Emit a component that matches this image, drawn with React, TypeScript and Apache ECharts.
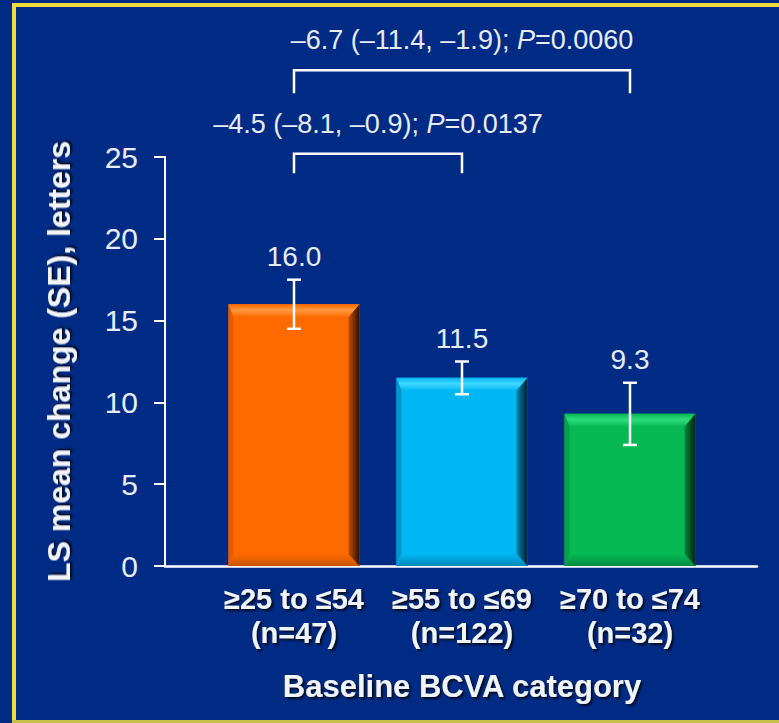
import React, { useEffect, useRef } from "react";
import * as echarts from "echarts";

// Baseline BCVA groups
const rangeLabels = ["≥25 to ≤54", "≥55 to ≤69", "≥70 to ≤74"];
const sampleSizes = [47, 122, 32];

// LS mean change from baseline (letters) and its standard error
const meanChange = [16.0, 11.5, 9.3];
const standardError = [1.5, 1.0, 1.9];

// y-axis scale
const yMin = 0;
const yMax = 25;
const yStep = 5;

// Pairwise comparisons against the lowest baseline group
const compareFrom = [0, 0];
const compareTo = [1, 2];
const diffEstimate = [-4.5, -6.7];
const ciLower = [-8.1, -11.4];
const ciUpper = [-0.9, -1.9];
const pValues = ["0.0137", "0.0060"];
const bracketLevel = [25.2, 30.3];
const bracketDrop = [1.2, 1.4];

const FONT = 'Arial, "Liberation Sans", Helvetica, sans-serif';
const TEXT = "#f2f4f8";

// Face / bevel shades for each bar
const barPalette = [
  { face: "#ff6a00", top: "#ff9a40", left: "#e35d00", right: ["#c04e00", "#2e1000"], bottom: "#c85400" },
  { face: "#00b7f3", top: "#3fd6ff", left: "#0098cc", right: ["#0086b5", "#001c2c"], bottom: "#0089ba" },
  { face: "#06b955", top: "#2fdc7b", left: "#05a048", right: ["#048a40", "#00200e"], bottom: "#048c42" },
];

const fmt = (v: number) => (v < 0 ? "–" + Math.abs(v).toFixed(1) : v.toFixed(1));

export default function App() {
  const ref = useRef<HTMLDivElement>(null);

  useEffect(() => {
    if (!ref.current) return;
    const chart = echarts.init(ref.current, undefined, { renderer: "svg" });

    const categories = rangeLabels.map((r, i) => `${r}\n(n=${sampleSizes[i]})`);
    const barData = meanChange.map((v, i) => [i, v]);
    const errData = meanChange.map((v, i) => [i, v, standardError[i]]);
    const bracketData = compareFrom.map((f, i) => [f, compareTo[i], bracketLevel[i], i]);

    const shadow = {
      textShadowColor: "rgba(0,0,0,0.75)",
      textShadowOffsetX: 2,
      textShadowOffsetY: 2,
      textShadowBlur: 2,
    };

    const option: any = {
      animation: false,
      backgroundColor: "#002b84",
      graphic: [
        { type: "rect", shape: { x: 12, y: 3, width: 4, height: 720 }, style: { fill: "#eedc3c" }, z: 100 },
        { type: "rect", shape: { x: 12, y: 3, width: 767, height: 4 }, style: { fill: "#eedc3c" }, z: 100 },
        { type: "rect", shape: { x: 12, y: 720, width: 767, height: 3 }, style: { fill: "#c8c04a" }, z: 100 },
      ],
      grid: [
        { left: 165, right: 22, top: 157, bottom: 157 },
        { left: 210, right: 65, top: 157, bottom: 157 },
      ],
      xAxis: [
        {
          type: "value",
          gridIndex: 0,
          min: 0,
          max: 1,
          axisLine: { show: true, lineStyle: { color: "#ffffff", width: 2.5 } },
          axisTick: { show: false },
          axisLabel: { show: false },
          splitLine: { show: false },
        },
        {
          type: "category",
          gridIndex: 1,
          data: categories,
          axisLine: { show: false },
          axisTick: { show: false },
          axisLabel: {
            interval: 0,
            color: TEXT,
            fontFamily: FONT,
            fontWeight: "bold",
            fontSize: 29,
            lineHeight: 34,
            margin: 16,
            ...shadow,
          },
          name: "Baseline BCVA category",
          nameLocation: "middle",
          nameGap: 105,
          nameTextStyle: {
            color: TEXT,
            fontFamily: FONT,
            fontWeight: "bold",
            fontSize: 31,
            ...shadow,
          },
        },
      ],
      yAxis: [
        {
          type: "value",
          gridIndex: 0,
          min: yMin,
          max: yMax,
          interval: yStep,
          axisLine: { show: true, lineStyle: { color: "#ffffff", width: 2 } },
          axisTick: { show: true, length: 11, lineStyle: { color: "#ffffff", width: 2 } },
          axisLabel: { color: "#e8ecf4", fontFamily: FONT, fontSize: 30, margin: 27 },
          splitLine: { show: false },
          name: "LS mean change (SE), letters",
          nameLocation: "middle",
          nameGap: 90,
          nameTextStyle: {
            color: TEXT,
            fontFamily: FONT,
            fontWeight: "bold",
            fontSize: 32,
            ...shadow,
          },
        },
        {
          type: "value",
          gridIndex: 1,
          min: yMin,
          max: yMax,
          interval: yStep,
          show: false,
        },
      ],
      series: [
        {
          type: "custom",
          name: "LS mean change",
          xAxisIndex: 1,
          yAxisIndex: 1,
          clip: false,
          z: 2,
          data: barData,
          encode: { x: 0, y: 1 },
          renderItem: (params: any, api: any) => {
            const idx = api.value(0);
            const val = api.value(1);
            const top = api.coord([idx, val]);
            const base = api.coord([idx, 0]);
            const band = api.size([1, 0])[0];
            const w = band * 0.78;
            const x0 = top[0] - w / 2;
            const x1 = top[0] + w / 2;
            const y0 = top[1];
            const y1 = base[1];
            const c = barPalette[idx % barPalette.length];
            const bT = 13, bR = 11, bL = 5, bB = 12;
            return {
              type: "group",
              children: [
                { type: "rect", shape: { x: x0, y: y0, width: x1 - x0, height: y1 - y0 }, style: { fill: c.face } },
                {
                  type: "polygon",
                  shape: { points: [[x0, y0], [x1, y0], [x1 - bR, y0 + bT], [x0 + bL, y0 + bT]] },
                  style: {
                    fill: new echarts.graphic.LinearGradient(0, 0, 0, 1, [
                      { offset: 0, color: c.face },
                      { offset: 0.45, color: c.top },
                      { offset: 1, color: c.face },
                    ]),
                  },
                },
                {
                  type: "polygon",
                  shape: { points: [[x0, y0], [x0 + bL, y0 + bT], [x0 + bL, y1 - bB], [x0, y1]] },
                  style: { fill: c.left },
                },
                {
                  type: "polygon",
                  shape: { points: [[x0, y1], [x0 + bL, y1 - bB], [x1 - bR, y1 - bB], [x1, y1]] },
                  style: {
                    fill: new echarts.graphic.LinearGradient(0, 0, 0, 1, [
                      { offset: 0, color: c.face },
                      { offset: 1, color: c.bottom },
                    ]),
                  },
                },
                {
                  type: "polygon",
                  shape: { points: [[x1, y0], [x1, y1], [x1 - bR, y1 - bB], [x1 - bR, y0 + bT]] },
                  style: {
                    fill: new echarts.graphic.LinearGradient(0, 0, 1, 0, [
                      { offset: 0, color: c.right[0] },
                      { offset: 1, color: c.right[1] },
                    ]),
                  },
                },
              ],
            };
          },
        },
        {
          type: "custom",
          name: "SE",
          xAxisIndex: 1,
          yAxisIndex: 1,
          clip: false,
          z: 3,
          data: errData,
          encode: { x: 0, y: 1 },
          renderItem: (params: any, api: any) => {
            const idx = api.value(0);
            const mean = api.value(1);
            const se = api.value(2);
            const hi = api.coord([idx, mean + se]);
            const lo = api.coord([idx, mean - se]);
            const cap = 7;
            const line = { stroke: "#ffffff", lineWidth: 2.5 };
            return {
              type: "group",
              children: [
                { type: "line", shape: { x1: hi[0], y1: hi[1], x2: lo[0], y2: lo[1] }, style: line },
                { type: "line", shape: { x1: hi[0] - cap, y1: hi[1], x2: hi[0] + cap, y2: hi[1] }, style: line },
                { type: "line", shape: { x1: lo[0] - cap, y1: lo[1], x2: lo[0] + cap, y2: lo[1] }, style: line },
                {
                  type: "text",
                  style: {
                    text: mean.toFixed(1),
                    x: hi[0],
                    y: hi[1] - 23,
                    align: "center",
                    verticalAlign: "middle",
                    fill: "#e8ecf4",
                    font: `28px ${FONT}`,
                  },
                },
              ],
            };
          },
        },
        {
          type: "custom",
          name: "Comparisons",
          xAxisIndex: 1,
          yAxisIndex: 1,
          clip: false,
          z: 3,
          data: bracketData,
          encode: { x: [0, 1], y: 2 },
          renderItem: (params: any, api: any) => {
            const from = api.value(0);
            const to = api.value(1);
            const level = api.value(2);
            const k = api.value(3);
            const a = api.coord([from, level]);
            const b = api.coord([to, level]);
            const legY = api.coord([from, level - bracketDrop[k]])[1];
            const text =
              `{t|${fmt(diffEstimate[k])} (${fmt(ciLower[k])}, ${fmt(ciUpper[k])}); }` +
              `{i|P}{t|=${pValues[k]}}`;
            return {
              type: "group",
              children: [
                {
                  type: "polyline",
                  shape: { points: [[a[0], legY], [a[0], a[1]], [b[0], b[1]], [b[0], legY]] },
                  style: { stroke: "#ffffff", lineWidth: 2.5, fill: "none" },
                },
                {
                  type: "text",
                  style: {
                    text,
                    x: (a[0] + b[0]) / 2,
                    y: a[1] - 30,
                    align: "center",
                    verticalAlign: "middle",
                    rich: {
                      t: { fill: "#e8ecf4", fontFamily: FONT, fontSize: 27 },
                      i: { fill: "#e8ecf4", fontFamily: FONT, fontSize: 27, fontStyle: "italic" },
                    },
                  },
                },
              ],
            };
          },
        },
      ],
    };

    chart.setOption(option);
    return () => chart.dispose();
  }, []);

  return (
    <div
      ref={ref}
      style={{ position: "fixed", left: 0, top: 0, width: 779, height: 723 }}
    />
  );
}
